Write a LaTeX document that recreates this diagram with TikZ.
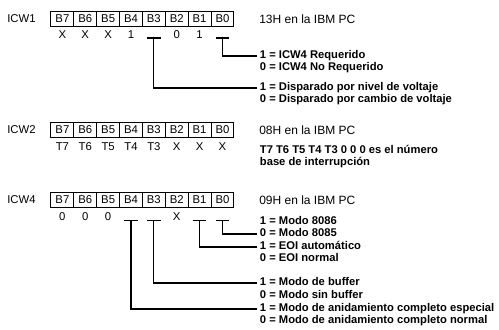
\documentclass[tikz,border=0pt]{standalone}
\usepackage{fontspec}
\setmainfont{Liberation Sans}
\usetikzlibrary{positioning}

\begin{document}
\begin{tikzpicture}[
    x=0.75pt, y=-0.75pt,
    font=\fontsize{8.5}{10}\selectfont,
    % Styles
    reg/.style={anchor=west, inner sep=0pt},
    cell/.style={draw, line width=0.75pt, minimum width=17.15pt, minimum height=11.25pt, inner sep=0pt, outer sep=0pt},
    bitval/.style={inner sep=0pt, text height=6.2pt, text depth=0pt},
    note/.style={anchor=west, inner sep=0pt, font=\fontsize{9}{10}\selectfont},
    expl/.style={anchor=west, inner sep=2pt, text height=6pt, text depth=1.6pt, font=\fontsize{8.4}{9}\selectfont\bfseries},
    wire/.style={line width=0.8pt}
]
\useasboundingbox (0,0) rectangle (499,329);

% 1. ICW1
\node[reg] (icw1) at (7,19) {ICW1};
\node[cell] (a7) at (62.4,19) {B7};
\node[cell, right=0pt of a7] (a6) {B6};
\node[cell, right=0pt of a6] (a5) {B5};
\node[cell, right=0pt of a5] (a4) {B4};
\node[cell, right=0pt of a4] (a3) {B3};
\node[cell, right=0pt of a3] (a2) {B2};
\node[cell, right=0pt of a2] (a1) {B1};
\node[cell, right=0pt of a1] (a0) {B0};
\node[note] (icw1pc) at (259,19) {13H en la IBM PC};

\node[bitval, below=2.6pt of a7] (va7) {X};
\node[bitval, below=2.6pt of a6] (va6) {X};
\node[bitval, below=2.6pt of a5] (va5) {X};
\node[bitval, below=2.6pt of a4] (va4) {1};
\node[bitval, below=2.6pt of a2] (va2) {0};
\node[bitval, below=2.6pt of a1] (va1) {1};
\coordinate[below=8.6pt of a3] (qa3);
\coordinate[below=8.6pt of a0] (qa0);

\node[expl] (req1) at (257,56) {1 = ICW4 Requerido};
\node[expl] (req0) at (257,68) {0 = ICW4 No Requerido};
\node[expl] (dis1) at (257,88) {1 = Disparado por nivel de voltaje};
\node[expl] (dis0) at (257,100) {0 = Disparado por cambio de voltaje};

\draw[wire] ([xshift=-5pt]qa3) -- ([xshift=5pt]qa3);
\draw[wire] ([xshift=-5pt]qa0) -- ([xshift=5pt]qa0);
\draw[wire] (qa0) |- (req1.west);
\draw[wire] (qa3) |- (dis1.west);

% 2. ICW2
\node[reg] (icw2) at (7,130) {ICW2};
\node[cell] (b7) at (62.4,130) {B7};
\node[cell, right=0pt of b7] (b6) {B6};
\node[cell, right=0pt of b6] (b5) {B5};
\node[cell, right=0pt of b5] (b4) {B4};
\node[cell, right=0pt of b4] (b3) {B3};
\node[cell, right=0pt of b3] (b2) {B2};
\node[cell, right=0pt of b2] (b1) {B1};
\node[cell, right=0pt of b1] (b0) {B0};
\node[note] (icw2pc) at (259,130) {08H en la IBM PC};

\node[bitval, below=3.5pt of b7] (vb7) {T7};
\node[bitval, below=3.5pt of b6] (vb6) {T6};
\node[bitval, below=3.5pt of b5] (vb5) {T5};
\node[bitval, below=3.5pt of b4] (vb4) {T4};
\node[bitval, below=3.5pt of b3] (vb3) {T3};
\node[bitval, below=3.5pt of b2] (vb2) {X};
\node[bitval, below=3.5pt of b1] (vb1) {X};
\node[bitval, below=3.5pt of b0] (vb0) {X};

\node[expl] (base1) at (257,151) {T7 T6 T5 T4 T3 0 0 0 es el número};
\node[expl] (base2) at (257,163) {base de interrupción};

% 3. ICW4
\node[reg] (icw4) at (7,200) {ICW4};
\node[cell] (c7) at (62.4,200) {B7};
\node[cell, right=0pt of c7] (c6) {B6};
\node[cell, right=0pt of c6] (c5) {B5};
\node[cell, right=0pt of c5] (c4) {B4};
\node[cell, right=0pt of c4] (c3) {B3};
\node[cell, right=0pt of c3] (c2) {B2};
\node[cell, right=0pt of c2] (c1) {B1};
\node[cell, right=0pt of c1] (c0) {B0};
\node[note] (icw4pc) at (259,200) {09H en la IBM PC};

\node[bitval, below=3.5pt of c7] (vc7) {0};
\node[bitval, below=3.5pt of c6] (vc6) {0};
\node[bitval, below=3.5pt of c5] (vc5) {0};
\node[bitval, below=3.5pt of c2] (vc2) {X};
\coordinate[below=9.5pt of c4] (qc4);
\coordinate[below=9.5pt of c3] (qc3);
\coordinate[below=9.5pt of c1] (qc1);
\coordinate[below=9.5pt of c0] (qc0);

\node[expl] (mod1) at (257,222) {1 = Modo 8086};
\node[expl] (mod0) at (257,234) {0 = Modo 8085};
\node[expl] (eoi1) at (257,247) {1 = EOI automático};
\node[expl] (eoi0) at (257,259) {0 = EOI normal};
\node[expl] (buf1) at (257,283) {1 = Modo de buffer};
\node[expl] (buf0) at (257,296) {0 = Modo sin buffer};
\node[expl] (nest1) at (257,309) {1 = Modo de anidamiento completo especial};
\node[expl] (nest0) at (257,321) {0 = Modo de anidamiento completo normal};

\draw[wire] ([xshift=-5pt]qc4) -- ([xshift=5pt]qc4);
\draw[wire] ([xshift=-5pt]qc3) -- ([xshift=5pt]qc3);
\draw[wire] ([xshift=-5pt]qc1) -- ([xshift=5pt]qc1);
\draw[wire] ([xshift=-5pt]qc0) -- ([xshift=5pt]qc0);
\draw[wire] (qc0) |- (mod0.west);
\draw[wire] (qc1) |- (eoi1.west);
\draw[wire] (qc3) |- (buf1.west);
\draw[wire] (qc4) |- (nest1.west);

\end{tikzpicture}
\end{document}
